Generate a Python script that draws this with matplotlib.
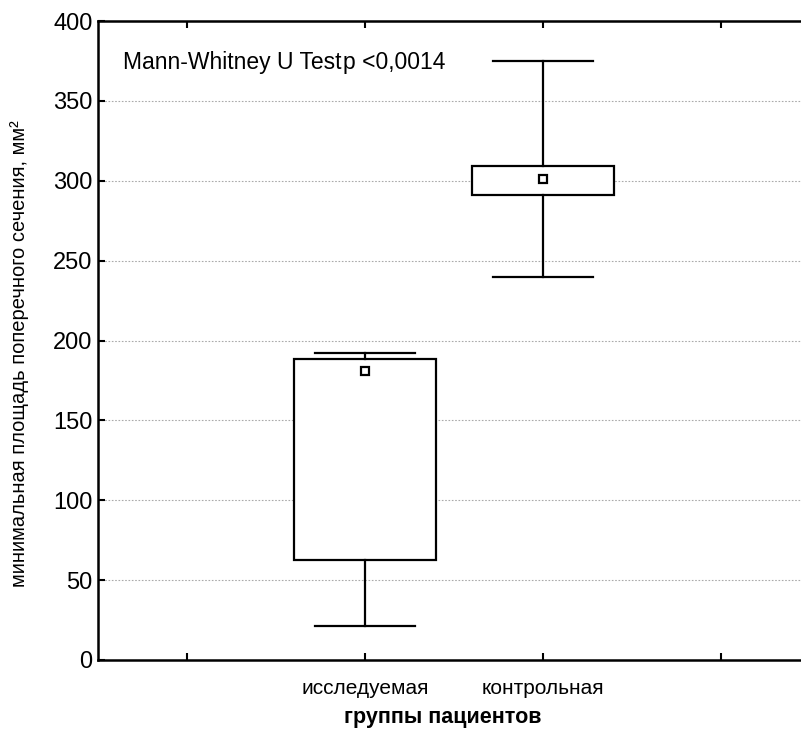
import matplotlib
matplotlib.use("Agg")
import matplotlib.pyplot as plt

# Data
groups = ["исследуемая", "контрольная"]
mins = [21, 240]
q1s = [62.5, 291]
medians = [181, 301]
q3s = [188.5, 309.5]
maxs = [192, 375]
y_ticks = [0, 50, 100, 150, 200, 250, 300, 350, 400]
annot_test = "Mann-Whitney U Test"
annot_p = "p <0,0014"
x_label = "группы пациентов"
y_label = "минимальная площадь поперечного сечения, мм²"

plt.rcParams['font.family'] = ['Liberation Sans', 'DejaVu Sans']

W, H = 801, 730
fig = plt.figure(figsize=(W / 100, H / 100), dpi=100)
ax = fig.add_axes([98 / W, (H - 660) / H, (810 - 98) / W, (660 - 21) / H])

stats = []
for i, g in enumerate(groups):
    stats.append(dict(label=g, whislo=mins[i], q1=q1s[i], med=medians[i],
                      q3=q3s[i], whishi=maxs[i], mean=medians[i], fliers=[]))

positions = [1, 2]
ax.bxp(stats, positions=positions, widths=0.8, showmeans=True, patch_artist=True,
       boxprops=dict(facecolor='white', edgecolor='black', linewidth=1.6),
       whiskerprops=dict(color='black', linewidth=1.6),
       capprops=dict(color='black', linewidth=1.6),
       medianprops=dict(linestyle='none'),
       meanprops=dict(marker='s', markerfacecolor='white', markeredgecolor='black',
                      markersize=6, markeredgewidth=1.6),
       capwidths=0.56, zorder=3)

ax.set_xlim(-0.5, 3.5)
ax.set_ylim(0, 400)
ax.set_yticks(y_ticks)
ax.set_xticks([0, 1, 2, 3])
ax.set_xticklabels(["", groups[0], groups[1], ""], fontsize=15)
ax.tick_params(axis='x', direction='in', length=5, width=1.5, top=True, pad=14)
ax.tick_params(axis='y', direction='in', length=5, width=1.5, labelsize=17, pad=4)

for s in ['left', 'bottom', 'top']:
    ax.spines[s].set_linewidth(1.8)
ax.spines['right'].set_visible(False)

ax.set_axisbelow(True)
ax.yaxis.grid(True, linestyle=(0, (1.5, 1.5)), color='#aaaaaa', linewidth=0.8)

fig.text(123 / W, 1 - 62 / H, annot_test, fontsize=16.5, va='center', ha='left')
fig.text(343 / W, 1 - 62 / H, annot_p, fontsize=16.5, va='center', ha='left')

fig.text(443 / W, 1 - 718 / H, x_label, fontsize=15.5, fontweight='bold',
         ha='center', va='center')
fig.text(20 / W, 1 - 354 / H, y_label, fontsize=14.5, rotation=90, ha='center', va='center')

fig.savefig("out.png", dpi=100)
